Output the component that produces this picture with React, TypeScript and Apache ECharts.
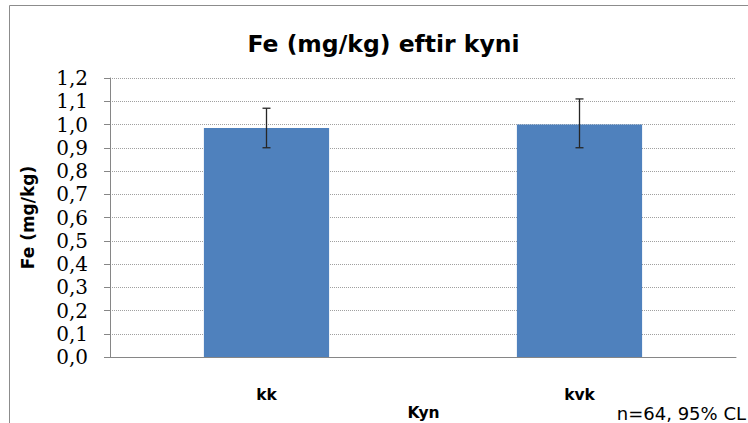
import React, { useEffect, useRef } from "react";
import * as echarts from "echarts";

const categories = ["kk", "kvk"];
const means = [0.985, 1.0];
const lower = [0.9, 0.9];
const upper = [1.07, 1.11];
const yTicks = ["0,0", "0,1", "0,2", "0,3", "0,4", "0,5", "0,6", "0,7", "0,8", "0,9", "1,0", "1,1", "1,2"];

const SANS = "'DejaVu Sans', sans-serif";

export default function App() {
  const ref = useRef<HTMLDivElement>(null);
  useEffect(() => {
    if (!ref.current) return;
    const chart = echarts.init(ref.current, undefined, { renderer: "svg" });
    const errData = categories.map((_, i) => [i, lower[i], upper[i]]);
    chart.setOption({
      animation: false,
      backgroundColor: "#ffffff",
      grid: { left: 110, right: 12, top: 78, bottom: 66 },
      graphic: [
        {
          type: "rect",
          shape: { x: 9.5, y: 5.5, width: 800, height: 500 },
          style: { fill: "none", stroke: "#8c8c8c", lineWidth: 1 },
          silent: true,
          z: -1,
        },
        {
          type: "text",
          x: 383.5,
          y: 44,
          style: {
            text: "Fe (mg/kg) eftir kyni",
            font: `bold 23.5px ${SANS}`,
            fill: "#000",
            align: "center",
            verticalAlign: "middle",
          },
        },
        {
          type: "text",
          x: 27.5,
          y: 217.5,
          rotation: Math.PI / 2,
          style: {
            text: "Fe (mg/kg)",
            font: `bold 17px ${SANS}`,
            fill: "#000",
            align: "center",
            verticalAlign: "middle",
          },
        },
        {
          type: "text",
          x: 423.5,
          y: 413,
          style: {
            text: "Kyn",
            font: `bold 15.5px ${SANS}`,
            fill: "#000",
            align: "center",
            verticalAlign: "middle",
          },
        },
        {
          type: "text",
          x: 746,
          y: 413,
          style: {
            text: "n=64, 95% CL",
            font: `18px ${SANS}`,
            fill: "#000",
            align: "right",
            verticalAlign: "middle",
          },
        },
      ],
      xAxis: {
        type: "category",
        data: categories,
        axisLine: { lineStyle: { color: "#868686", width: 1 } },
        axisTick: { show: false },
        axisLabel: {
          margin: 30,
          verticalAlign: "top",
          fontFamily: SANS,
          fontWeight: "bold",
          fontSize: 15.5,
          color: "#000",
          lineHeight: 15,
        },
      },
      yAxis: {
        type: "value",
        min: 0,
        max: 1.2,
        interval: 0.1,
        axisLine: { show: true, lineStyle: { color: "#868686", width: 1 } },
        axisTick: { show: true, length: 6, lineStyle: { color: "#868686" } },
        splitLine: { lineStyle: { color: "#a0a0a0", type: [1, 1], width: 1 } },
        axisLabel: {
          margin: 22,
          fontFamily: "DejaVu Serif",
          fontSize: 20,
          color: "#000",
          formatter: (v: number) => yTicks[Math.round(v * 10)] ?? "",
        },
      },
      series: [
        {
          type: "bar",
          data: means,
          barCategoryGap: "60%",
          itemStyle: { color: "#4f81bd" },
        },
        {
          type: "custom",
          data: errData,
          z: 10,
          renderItem: (params: any, api: any) => {
            const x = api.value(0);
            const lo = api.coord([x, api.value(1)]);
            const hi = api.coord([x, api.value(2)]);
            const w = 4;
            const style = { stroke: "#262626", lineWidth: 1.3 };
            return {
              type: "group",
              children: [
                { type: "line", shape: { x1: lo[0], y1: lo[1], x2: hi[0], y2: hi[1] }, style },
                { type: "line", shape: { x1: hi[0] - w, y1: hi[1], x2: hi[0] + w, y2: hi[1] }, style },
                { type: "line", shape: { x1: lo[0] - w, y1: lo[1], x2: lo[0] + w, y2: lo[1] }, style },
              ],
            };
          },
        },
      ],
    });
    return () => chart.dispose();
  }, []);
  return (
    <div
      ref={ref}
      style={{ position: "fixed", left: 0, top: 0, width: 748, height: 423 }}
    />
  );
}
